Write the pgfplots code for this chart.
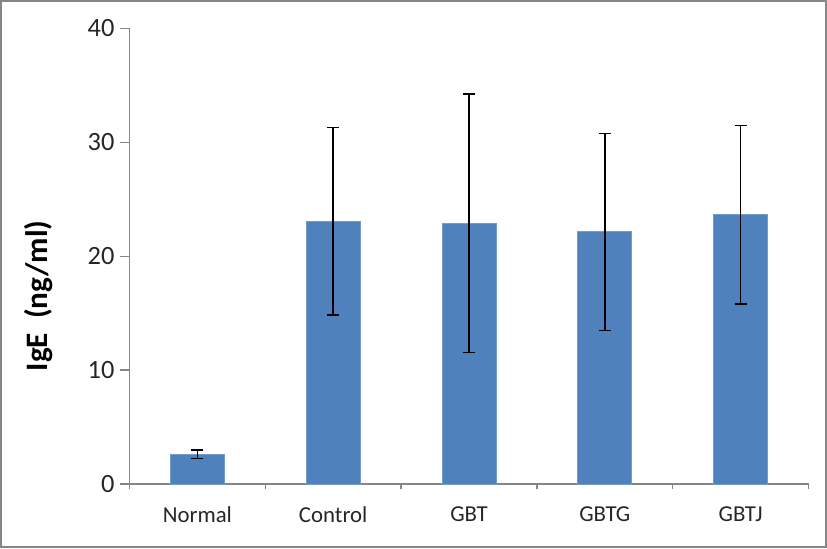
\documentclass[border=0pt]{standalone}
\usepackage{pgfplots}
\pgfplotsset{compat=1.18}
\usepackage{fontspec}
\setmainfont{Carlito}
\definecolor{barblue}{RGB}{79,129,189}
\definecolor{axgray}{RGB}{134,134,134}
\begin{document}
\begin{tikzpicture}
\begin{axis}[name=ax, scale only axis, width=339.5bp, height=227.75bp,
 xmin=-0.5, xmax=4.5, ymin=0, ymax=40,
 axis x line*=bottom, axis y line*=left,
 axis line style={axgray, line width=0.75bp},
 xtick={0,1,2,3,4}, xticklabels={Normal,Control,GBT,GBTG,GBTJ},
 minor xtick={-0.5,0.5,1.5,2.5,3.5,4.5},
 major x tick style={draw=none},
 minor x tick style={axgray, line width=0.75bp},
 minor tick length=2.5bp,
 ytick={0,10,20,30,40},
 y tick style={axgray, line width=0.75bp},
 major tick length=5bp,
 tick align=outside,
 xticklabel style={font=\fontsize{11.4bp}{13bp}\selectfont, text=black!85, yshift=-3bp},
 yticklabel style={font=\fontsize{13.2bp}{15bp}\selectfont, text=black!85, xshift=1bp},
 /pgf/number format/assume math mode=true,
 ylabel={IgE~~(ng/ml)},
 ylabel style={font=\bfseries\fontsize{15.6bp}{18bp}\selectfont, at={(axis description cs:-0.155,0.413)}, anchor=north, inner sep=0pt},
]
\addplot[ybar, bar width=27bp, fill=barblue, draw=barblue!80!white, line width=0.5bp,
  error bars/.cd, y dir=both, y explicit,
  error bar style={black, line width=0.75bp},
  error mark options={black, rotate=90, mark size=3bp, line width=0.75bp}]
 coordinates {(0,2.61) +- (0,0.38) (1,23.06) +- (0,8.24) (2,22.89) +- (0,11.36) (3,22.15) +- (0,8.65) (4,23.64) +- (0,7.85)};
\end{axis}
\draw[axgray, line width=1bp] ([xshift=-64.25bp,yshift=-31.5bp]ax.south west) rectangle ([xshift=8.75bp,yshift=13.75bp]ax.north east);
\end{tikzpicture}
\end{document}
